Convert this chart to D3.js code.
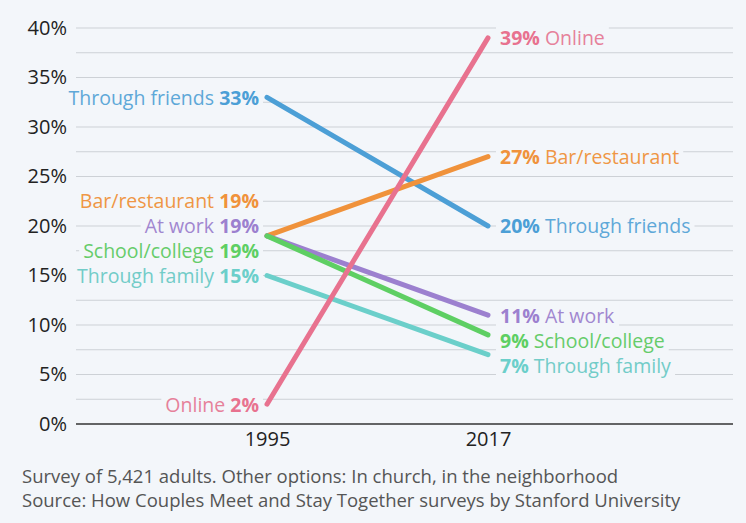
<!DOCTYPE html>
<html>
<head>
<meta charset="utf-8">
<script src="https://cdn.jsdelivr.net/npm/d3@7"></script>
<style>
  html, body { margin: 0; padding: 0; background: #f3f6fa; }
  svg { display: block; font-family: "Open Sans", sans-serif; }
</style>
</head>
<body>
<svg id="chart" width="746" height="523"></svg>
<script>
const years = [1995, 2017];
const categories = ["Through friends", "Bar/restaurant", "At work", "School/college", "Through family", "Online"];
const values1995 = [33, 19, 19, 19, 15, 2];
const values2017 = [20, 27, 11, 9, 7, 39];
const lineColors = ["#4c9fd6", "#f0923b", "#9c80cf", "#5ecf63", "#6bcfca", "#e8728f"];
const textColors = ["#5ea8d8", "#ef9645", "#a187d0", "#66cc6a", "#72ccc8", "#e6819a"];
const yTicks = [0, 5, 10, 15, 20, 25, 30, 35, 40];
const gridValues = [0, 2.5, 5, 7.5, 10, 12.5, 15, 17.5, 20, 22.5, 25, 27.5, 30, 32.5, 35, 37.5, 40];
const footnotes = [
  "Survey of 5,421 adults. Other options: In church, in the neighborhood",
  "Source: How Couples Meet and Stay Together surveys by Stanford University"
];

const svg = d3.select("#chart");
const bg = "#f3f6fa";
svg.append("rect").attr("width", 746).attr("height", 523).attr("fill", bg);

const plotLeft = 76, plotRight = 733;
const x = d3.scaleLinear().domain(years).range([267, 488]);
const y = d3.scaleLinear().domain([0, 40]).range([424, 28]);

// grid
svg.append("g").selectAll("line").data(gridValues).join("line")
  .attr("x1", plotLeft).attr("x2", plotRight)
  .attr("y1", d => y(d)).attr("y2", d => y(d))
  .attr("stroke", d => d === 0 ? "#333" : "#cdd1d6")
  .attr("stroke-width", d => d === 0 ? 1.3 : 1);

// y axis labels
const yAxis = d3.axisLeft(y).tickValues(yTicks).tickFormat(d => d + "%").tickSize(0).tickPadding(0);
const yg = svg.append("g").attr("transform", `translate(67,0)`).call(yAxis);
yg.select(".domain").remove();
yg.selectAll("text").attr("font-family", "Open Sans, sans-serif").attr("font-size", 20).attr("fill", "#222");

// x axis labels
const xAxis = d3.axisBottom(x).tickValues(years).tickFormat(d3.format("d")).tickSize(0).tickPadding(0);
const xg = svg.append("g").attr("transform", `translate(0,432)`).call(xAxis);
xg.select(".domain").remove();
xg.selectAll("text").attr("font-family", "Open Sans, sans-serif").attr("font-size", 20).attr("fill", "#222");

const data = categories.map((c, i) => ({
  name: c, idx: i, v0: values1995[i], v1: values2017[i], color: lineColors[i], tcolor: textColors[i]
}));

// lines
const line = d3.line().x(d => x(d[0])).y(d => y(d[1]));
svg.append("g").selectAll("path").data(data).join("path")
  .attr("d", d => line([[years[0], d.v0], [years[1], d.v1]]))
  .attr("fill", "none").attr("stroke", d => d.color)
  .attr("stroke-width", 5).attr("stroke-linecap", "round");

// label de-overlap: tied values form a centred block, then blocks are pushed greedily
function layout(items, gap, dir) {
  const groups = d3.groups(items, it => it.target)
    .map(([t, arr]) => {
      arr.sort((a, b) => a.d.idx - b.d.idx);
      const n = arr.length;
      arr.forEach((it, k) => it.y = t + (k - (n - 1) / 2) * gap);
      return { top: arr[0].y, bottom: arr[n - 1].y, arr };
    });
  const shift = (g, s) => { g.arr.forEach(it => it.y += s); g.top += s; g.bottom += s; };
  if (dir === "down") {
    groups.sort((a, b) => a.top - b.top);
    let prev = -Infinity;
    groups.forEach(g => { if (g.top < prev + gap) shift(g, prev + gap - g.top); prev = g.bottom; });
  } else {
    groups.sort((a, b) => b.bottom - a.bottom);
    let prev = Infinity;
    groups.forEach(g => { if (g.bottom > prev - gap) shift(g, prev - gap - g.bottom); prev = g.top; });
  }
  return items;
}

const fs = 19.5;
const leftItems = layout(data.map(d => ({ d, target: y(d.v0) })), 25, "up");
const rightItems = layout(data.map(d => ({ d, target: y(d.v1) })), 25, "down");

function drawLabel(g, it, side) {
  const lg = g.append("g");
  const t = lg.append("text")
    .attr("y", it.y).attr("dy", "0.38em")
    .attr("font-size", fs).attr("fill", it.d.tcolor);
  if (side === "left") {
    t.attr("x", x(years[0]) - 8).attr("text-anchor", "end");
    t.append("tspan").text(it.d.name + " ");
    t.append("tspan").attr("font-weight", 700).attr("fill", it.d.color).text(it.d.v0 + "%");
  } else {
    t.attr("x", x(years[1]) + 12).attr("text-anchor", "start");
    t.append("tspan").attr("font-weight", 700).attr("fill", it.d.color).text(it.d.v1 + "%");
    t.append("tspan").text(" " + it.d.name);
  }
  const bb = t.node().getBBox();
  lg.insert("rect", "text")
    .attr("x", bb.x - 4).attr("y", bb.y + 2).attr("width", bb.width + 8).attr("height", bb.height - 4)
    .attr("fill", bg);
}
const lblG = svg.append("g");
leftItems.forEach(it => drawLabel(lblG, it, "left"));
rightItems.forEach(it => drawLabel(lblG, it, "right"));

// footnotes
svg.append("g").selectAll("text").data(footnotes).join("text")
  .attr("x", 22).attr("y", (d, i) => 483 + i * 24)
  .attr("font-family", "Open Sans, sans-serif")
  .attr("font-size", 18.5).attr("fill", "#555")
  .text(d => d);
</script>
</body>
</html>
